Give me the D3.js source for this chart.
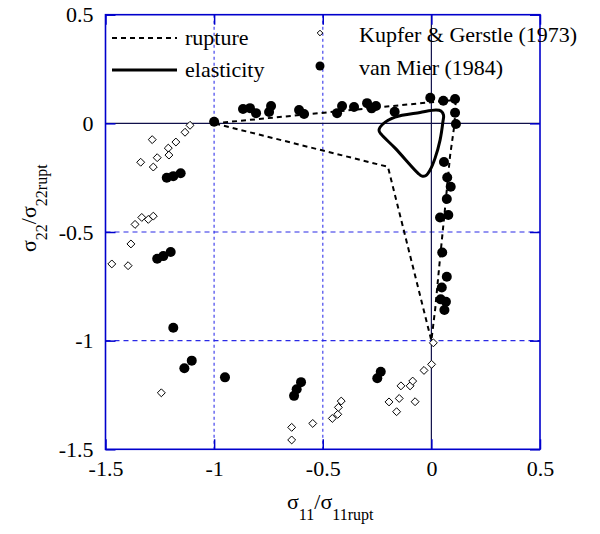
<!DOCTYPE html>
<html>
<head>
<meta charset="utf-8">
<script src="https://cdn.jsdelivr.net/npm/d3@7"></script>
<style>
  body { margin: 0; background: #fff; }
  svg { font-family: "Liberation Serif", "Times New Roman", serif; }
  svg text { font-family: "Liberation Serif", "Times New Roman", serif !important; }
</style>
</head>
<body>
<svg id="chart" width="600" height="534"></svg>
<script>
// data (sigma11/sigma11rupt, sigma22/sigma22rupt)
const vanMier = [
  [-1.0, 0.007], [-0.867, 0.066], [-0.835, 0.07], [-0.807, 0.047], [-0.738, 0.08], [-0.747, 0.052],
  [-0.609, 0.061], [-0.586, 0.043], [-0.434, 0.047], [-0.411, 0.08], [-0.356, 0.075], [-0.296, 0.093],
  [-0.275, 0.069], [-0.255, 0.08], [-0.169, 0.053], [-0.005, 0.118], [0.055, 0.104], [0.109, 0.112],
  [0.109, 0.049], [0.113, -0.003], [0.058, -0.178], [0.073, -0.249], [0.089, -0.292], [0.071, -0.348],
  [0.078, -0.422], [0.04, -0.433], [0.05, -0.594], [0.071, -0.706], [0.048, -0.755], [0.043, -0.81],
  [0.067, -0.821], [0.06, -0.859],
  [-1.218, -0.25], [-1.188, -0.243], [-1.154, -0.23],
  [-1.262, -0.623], [-1.234, -0.611], [-1.2, -0.592], [-1.188, -0.941],
  [-1.137, -1.127], [-1.103, -1.092], [-0.95, -1.169],
  [-0.632, -1.254], [-0.62, -1.224], [-0.6, -1.191], [-0.249, -1.173], [-0.233, -1.143]
];

const kupfer = [
  [-1.111, -0.009], [-1.134, -0.041], [-1.176, -0.086], [-1.211, -0.114], [-1.285, -0.075],
  [-1.262, -0.158], [-1.208, -0.146], [-1.338, -0.179], [-1.28, -0.201],
  [-1.28, -0.427], [-1.303, -0.442], [-1.333, -0.433], [-1.364, -0.465], [-1.383, -0.555],
  [-1.471, -0.647], [-1.396, -0.655], [-1.243, -1.24], [-0.643, -1.399], [-0.643, -1.457],
  [-0.546, -1.381], [-0.456, -1.358], [-0.431, -1.339], [-0.428, -1.307], [-0.415, -1.278],
  [-0.195, -1.282], [-0.16, -1.327], [-0.148, -1.266], [-0.14, -1.208], [-0.098, -1.208],
  [-0.086, -1.186], [-0.075, -1.281], [-0.034, -1.137], [0.001, -1.109], [0.009, -1.01]
];

const rupture = [
  [-1.0, 0.0], [0.112, 0.108], [0.107, 0.0], [0.086, -0.15], [0.062, -0.4],
  [0.037, -0.65], [0.018, -0.85], [0.0, -1.0], [-0.2, -0.2], [-1.0, 0.0]
];

const elasticity = [
  [-0.241, -0.031], [-0.223, -0.003], [-0.167, 0.029], [-0.052, 0.05], [0.021, 0.061],
  [0.044, 0.057], [0.056, 0.038], [0.053, 0.006], [0.04, -0.077], [0.017, -0.16],
  [-0.006, -0.215], [-0.025, -0.24], [-0.043, -0.243], [-0.062, -0.229], [-0.167, -0.114],
  [-0.232, -0.049]
];

const tickValues = [-1.5, -1, -0.5, 0, 0.5];
const gridValues = [-1, -0.5];

const config = {
  left: 105.5,
  right: 540,
  top: 14.7,
  bottom: 449.3
};

let svg = d3.select('#chart');

// scales
let xScale = d3.scaleLinear().domain([-1.5, 0.5]).range([config.left, config.right]);
let yScale = d3.scaleLinear().domain([-1.5, 0.5]).range([config.bottom, config.top]);

// grid lines
svg.selectAll('.vgrid')
  .data(gridValues)
  .enter()
  .append('line')
  .attr('x1', d => xScale(d)).attr('x2', d => xScale(d))
  .attr('y1', config.top).attr('y2', config.bottom)
  .style('stroke', '#6a6af0')
  .style('stroke-width', 1.5)
  .style('stroke-dasharray', '3,3');

svg.selectAll('.hgrid')
  .data(gridValues)
  .enter()
  .append('line')
  .attr('x1', config.left).attr('x2', config.right)
  .attr('y1', d => yScale(d)).attr('y2', d => yScale(d))
  .style('stroke', '#2a2ae6')
  .style('stroke-width', 1.2)
  .style('stroke-dasharray', '5,4');

// zero lines
svg.append('line')
  .attr('x1', config.left).attr('x2', config.right)
  .attr('y1', yScale(0)).attr('y2', yScale(0))
  .style('stroke', '#10104a').style('stroke-width', 1.2);
svg.append('line')
  .attr('x1', xScale(0)).attr('x2', xScale(0))
  .attr('y1', config.top).attr('y2', config.bottom)
  .style('stroke', '#10104a').style('stroke-width', 1.2);

// axes
const fmt = d => String(d);
let axes = [
  d3.axisLeft(yScale).tickValues(tickValues).tickSize(-10).tickPadding(12).tickFormat(fmt),
  d3.axisBottom(xScale).tickValues(tickValues).tickSize(-10).tickPadding(11).tickFormat(fmt),
  d3.axisRight(yScale).tickValues(tickValues).tickSize(-10).tickFormat(''),
  d3.axisTop(xScale).tickValues(tickValues).tickSize(-10).tickFormat('')
];
let pos = [
  `translate(${config.left},0)`, `translate(0,${config.bottom})`,
  `translate(${config.right},0)`, `translate(0,${config.top})`
];
axes.forEach((ax, i) => {
  let g = svg.append('g').attr('transform', pos[i]).call(ax)
    .attr('font-family', '"Liberation Serif", serif')
    .attr('font-size', 22);
  g.select('.domain').remove();
  g.selectAll('line').style('stroke', '#0000cc').style('stroke-width', 1.5);
  g.selectAll('text').style('fill', '#000');
});

// border
svg.append('rect')
  .attr('x', config.left).attr('y', config.top)
  .attr('width', config.right - config.left).attr('height', config.bottom - config.top)
  .style('fill', 'none').style('stroke', '#0000cc').style('stroke-width', 1.6);

// lines
let line = d3.line().x(d => xScale(d[0])).y(d => yScale(d[1]));

svg.append('path')
  .datum(rupture)
  .attr('d', line)
  .style('fill', 'none').style('stroke', '#000')
  .style('stroke-width', 2).style('stroke-dasharray', '5,4');

svg.append('path')
  .datum(elasticity)
  .attr('d', line.curve(d3.curveCatmullRomClosed.alpha(0.5)))
  .style('fill', 'none').style('stroke', '#000')
  .style('stroke-width', 3).style('stroke-linejoin', 'round');

// markers
const diamond = d3.symbol().type(d3.symbolDiamond2).size(40);

svg.selectAll('.kg')
  .data(kupfer)
  .enter()
  .append('path')
  .attr('d', diamond)
  .attr('transform', d => `translate(${xScale(d[0])},${yScale(d[1])})`)
  .style('fill', '#fff').style('stroke', '#000').style('stroke-width', 1);

svg.selectAll('.vm')
  .data(vanMier)
  .enter()
  .append('circle')
  .attr('r', 5)
  .attr('cx', d => xScale(d[0]))
  .attr('cy', d => yScale(d[1]))
  .style('fill', '#000');

// legend
let legend = svg.append('g').style('font-size', '22px');
legend.append('line')
  .attr('x1', 112).attr('x2', 177).attr('y1', 38).attr('y2', 38)
  .style('stroke', '#000').style('stroke-width', 2).style('stroke-dasharray', '5,4');
legend.append('line')
  .attr('x1', 112).attr('x2', 177).attr('y1', 70).attr('y2', 70)
  .style('stroke', '#000').style('stroke-width', 3);
legend.append('text').attr('x', 185).attr('y', 45).text('rupture');
legend.append('text').attr('x', 185).attr('y', 77).text('elasticity');

legend.append('path')
  .attr('d', d3.symbol().type(d3.symbolDiamond2).size(20))
  .attr('transform', 'translate(320,33)')
  .style('fill', '#fff').style('stroke', '#000').style('stroke-width', 1);
legend.append('circle').attr('cx', 320).attr('cy', 66).attr('r', 4.5).style('fill', '#000');
legend.append('text').attr('x', 359).attr('y', 42).text('Kupfer & Gerstle (1973)');
legend.append('text').attr('x', 359).attr('y', 75).text('van Mier (1984)');

// axis titles
let xt = svg.append('text')
  .attr('x', 287).attr('y', 509)
  .style('font-size', '22px');
xt.append('tspan').text('σ');
xt.append('tspan').attr('dy', 11).style('font-size', '16px').text('11');
xt.append('tspan').attr('dy', -11).text('/σ');
xt.append('tspan').attr('dy', 11).style('font-size', '16px').text('11rupt');

let yt = svg.append('text')
  .attr('transform', 'translate(36,252) rotate(-90)')
  .style('font-size', '22px');
yt.append('tspan').text('σ');
yt.append('tspan').attr('dy', 11).style('font-size', '16px').text('22');
yt.append('tspan').attr('dy', -11).text('/σ');
yt.append('tspan').attr('dy', 11).style('font-size', '16px').text('22rupt');
</script>
</body>
</html>
